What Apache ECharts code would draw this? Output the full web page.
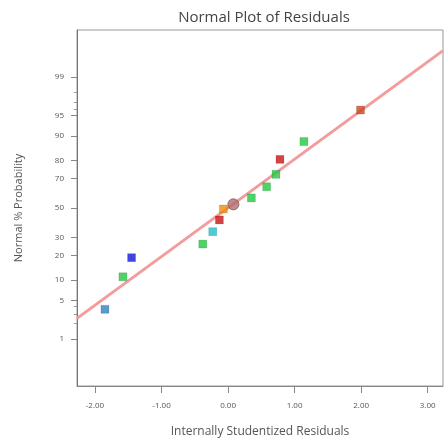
<!DOCTYPE html>
<html>
<head>
<meta charset="utf-8">
<script src="https://cdn.jsdelivr.net/npm/echarts@6/dist/echarts.min.js"></script>
<style>
  html, body { margin: 0; padding: 0; background: #fff; }
  #main { width: 444px; height: 444px; }
</style>
</head>
<body>
<div id="main"></div>
<script>
// residuals (x) and normal % probability (y)
var residuals = [-1.85, -1.58, -1.45, -0.38, -0.23, -0.13, -0.07, 0.08, 0.35, 0.58, 0.72, 0.78, 1.14, 1.99];
var probability = [3.6, 11.1, 18.9, 26.1, 33.7, 41.6, 49.3, 52.6, 57.1, 64.7, 72.5, 80.6, 88.1, 95.9];
var pointColors = ['#2f7fc1', '#1fc93f', '#1414dc', '#1fc93f', '#1fbfc9', '#c81414', '#e8900c', '#b86a6a',
                   '#1fc93f', '#1fc93f', '#1fc93f', '#c81414', '#1fc93f', '#d0461a'];
var pointShapes = ['rect', 'rect', 'rect', 'rect', 'rect', 'rect', 'rect', 'circle',
                   'rect', 'rect', 'rect', 'rect', 'rect', 'rect'];

// fitted normal line, end points
var lineResiduals = [-2.27, 3.23];
var lineProbability = [2.5, 99.74];

var xTicks = [-2, -1, 0, 1, 2, 3];
var probTicks = [1, 5, 10, 20, 30, 50, 70, 80, 90, 95, 99];
var probMinorTicks = [2, 3, 4, 96, 97, 98];

// inverse normal cdf (Acklam)
function probit(p) {
    var a = [-39.69683028665376, 220.9460984245205, -275.9285104469687, 138.3577518672690, -30.66479806614716, 2.506628277459239];
    var b = [-54.47609879822406, 161.5858368580409, -155.6989798598866, 66.80131188771972, -13.28068155211881];
    var c = [-0.007784894002430293, -0.3223964580411365, -2.400758277161838, -2.549732539343734, 4.374664141464968, 2.938163982698783];
    var d = [0.007784695709041462, 0.3224671290700398, 2.445134137142996, 3.754408661907416];
    var pl = 0.02425, q, r;
    if (p < pl) {
        q = Math.sqrt(-2 * Math.log(p));
        return (((((c[0]*q+c[1])*q+c[2])*q+c[3])*q+c[4])*q+c[5]) / ((((d[0]*q+d[1])*q+d[2])*q+d[3])*q+1);
    } else if (p <= 1 - pl) {
        q = p - 0.5; r = q * q;
        return (((((a[0]*r+a[1])*r+a[2])*r+a[3])*r+a[4])*r+a[5])*q / (((((b[0]*r+b[1])*r+b[2])*r+b[3])*r+b[4])*r+1);
    }
    q = Math.sqrt(-2 * Math.log(1 - p));
    return -(((((c[0]*q+c[1])*q+c[2])*q+c[3])*q+c[4])*q+c[5]) / ((((d[0]*q+d[1])*q+d[2])*q+d[3])*q+1);
}
function z(pct) { return probit(pct / 100); }

var font = 'Open Sans';
var txt = '#555';

var points = residuals.map(function (r, i) {
    var isCircle = pointShapes[i] === 'circle';
    return {
        value: [r, z(probability[i])],
        symbol: pointShapes[i],
        symbolSize: isCircle ? 11 : 8,
        itemStyle: {
            color: pointColors[i],
            borderColor: isCircle ? '#6a5a5a' : 'rgba(0,0,0,0.15)',
            borderWidth: 1
        }
    };
});

var myChart = echarts.init(document.getElementById('main'));
var option = {
    backgroundColor: '#fff',
    animation: false,
    title: {
        text: 'Normal Plot of Residuals',
        left: 259,
        textAlign: 'center',
        top: 5,
        textStyle: { fontFamily: font, fontSize: 15, fontWeight: 'normal', color: '#444' }
    },
    grid: { left: 77, top: 30, right: 1, bottom: 58, show: true, borderColor: '#999', borderWidth: 1 },
    xAxis: {
        type: 'value',
        min: -2.27,
        max: 3.23,
        name: 'Internally Studentized Residuals',
        nameLocation: 'middle',
        nameGap: 40,
        nameTextStyle: { fontFamily: font, fontSize: 12, color: txt },
        splitLine: { show: false },
        axisLine: { show: true, onZero: false, lineStyle: { color: '#888' } },
        axisTick: { show: true, customValues: xTicks, length: 7, lineStyle: { color: '#888' } },
        axisLabel: {
            customValues: xTicks, fontFamily: font, fontSize: 8, color: txt, margin: 16,
            formatter: function (v) { return v.toFixed(2); }
        }
    },
    yAxis: [{
        type: 'value',
        min: -3.16,
        max: 3.16,
        name: 'Normal % Probability',
        nameLocation: 'middle',
        nameGap: 53,
        nameTextStyle: { fontFamily: font, fontSize: 11, color: txt },
        splitLine: { show: false },
        axisLine: { show: true, onZero: false, lineStyle: { color: '#777' } },
        axisTick: { show: true, customValues: probTicks.map(z), length: 6, lineStyle: { color: '#888' } },
        axisLabel: {
            customValues: probTicks.map(z), fontFamily: font, fontSize: 8, color: txt, margin: 13,
            formatter: function (v) {
                var best = probTicks[0];
                probTicks.forEach(function (p) { if (Math.abs(z(p) - v) < Math.abs(z(best) - v)) best = p; });
                return String(best);
            }
        }
    }, {
        type: 'value',
        position: 'left',
        min: -3.16,
        max: 3.16,
        splitLine: { show: false },
        axisLine: { show: false, onZero: false },
        axisTick: { show: true, customValues: probMinorTicks.map(z), length: 3, lineStyle: { color: '#999' } },
        axisLabel: { show: false }
    }],
    series: [{
        type: 'line',
        data: lineResiduals.map(function (r, i) { return [r, z(lineProbability[i])]; }),
        symbol: 'none',
        lineStyle: { color: '#f29c9c', width: 3 },
        silent: true,
        z: 1
    }, {
        type: 'scatter',
        data: points,
        z: 2
    }]
};
myChart.setOption(option);
</script>
</body>
</html>
